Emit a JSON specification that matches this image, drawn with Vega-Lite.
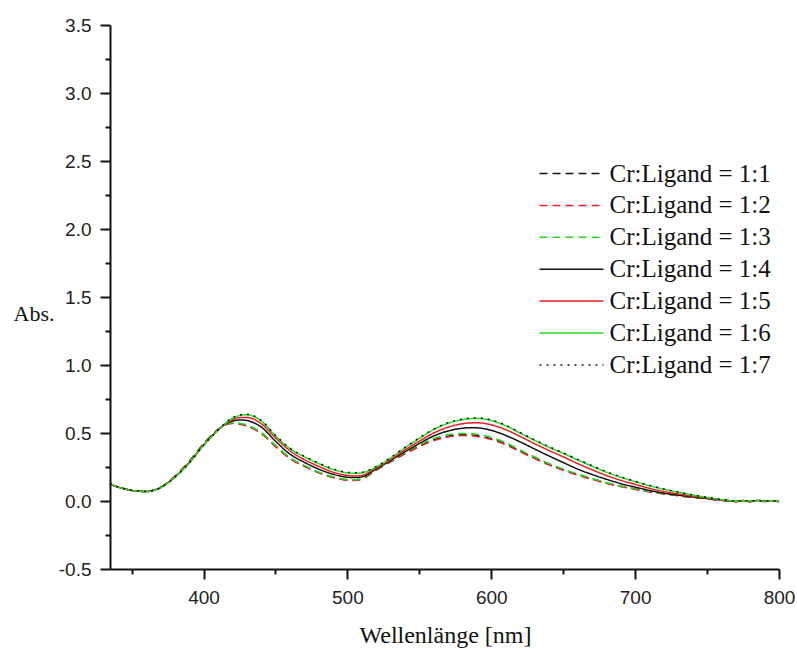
{
"$schema": "https://vega.github.io/schema/vega-lite/v6.json",
"width": 669, "height": 544,
"autosize": "none",
"padding": {"left": 110, "top": 25, "right": 18, "bottom": 80},
"background": "white",
"config": {"view": {"stroke": null}, "axis": {"grid": false}},
"data": {"values": [
{"nm":335,"abs":0.125,"series":"Cr:Ligand = 1:1"},{"nm":340,"abs":0.105,"series":"Cr:Ligand = 1:1"},{"nm":345,"abs":0.09,"series":"Cr:Ligand = 1:1"},{"nm":350,"abs":0.078,"series":"Cr:Ligand = 1:1"},{"nm":360,"abs":0.07,"series":"Cr:Ligand = 1:1"},{"nm":370,"abs":0.1,"series":"Cr:Ligand = 1:1"},{"nm":380,"abs":0.18,"series":"Cr:Ligand = 1:1"},{"nm":390,"abs":0.29,"series":"Cr:Ligand = 1:1"},{"nm":400,"abs":0.42,"series":"Cr:Ligand = 1:1"},{"nm":410,"abs":0.525,"series":"Cr:Ligand = 1:1"},{"nm":415,"abs":0.56,"series":"Cr:Ligand = 1:1"},{"nm":420,"abs":0.572,"series":"Cr:Ligand = 1:1"},{"nm":425,"abs":0.568,"series":"Cr:Ligand = 1:1"},{"nm":430,"abs":0.555,"series":"Cr:Ligand = 1:1"},{"nm":435,"abs":0.532,"series":"Cr:Ligand = 1:1"},{"nm":440,"abs":0.5,"series":"Cr:Ligand = 1:1"},{"nm":450,"abs":0.405,"series":"Cr:Ligand = 1:1"},{"nm":460,"abs":0.315,"series":"Cr:Ligand = 1:1"},{"nm":470,"abs":0.258,"series":"Cr:Ligand = 1:1"},{"nm":480,"abs":0.21,"series":"Cr:Ligand = 1:1"},{"nm":490,"abs":0.175,"series":"Cr:Ligand = 1:1"},{"nm":500,"abs":0.155,"series":"Cr:Ligand = 1:1"},{"nm":505,"abs":0.153,"series":"Cr:Ligand = 1:1"},{"nm":510,"abs":0.162,"series":"Cr:Ligand = 1:1"},{"nm":520,"abs":0.228,"series":"Cr:Ligand = 1:1"},{"nm":530,"abs":0.29,"series":"Cr:Ligand = 1:1"},{"nm":540,"abs":0.35,"series":"Cr:Ligand = 1:1"},{"nm":550,"abs":0.405,"series":"Cr:Ligand = 1:1"},{"nm":560,"abs":0.45,"series":"Cr:Ligand = 1:1"},{"nm":570,"abs":0.477,"series":"Cr:Ligand = 1:1"},{"nm":580,"abs":0.487,"series":"Cr:Ligand = 1:1"},{"nm":585,"abs":0.486,"series":"Cr:Ligand = 1:1"},{"nm":590,"abs":0.481,"series":"Cr:Ligand = 1:1"},{"nm":595,"abs":0.472,"series":"Cr:Ligand = 1:1"},{"nm":600,"abs":0.458,"series":"Cr:Ligand = 1:1"},{"nm":610,"abs":0.42,"series":"Cr:Ligand = 1:1"},{"nm":620,"abs":0.368,"series":"Cr:Ligand = 1:1"},{"nm":630,"abs":0.318,"series":"Cr:Ligand = 1:1"},{"nm":640,"abs":0.27,"series":"Cr:Ligand = 1:1"},{"nm":650,"abs":0.23,"series":"Cr:Ligand = 1:1"},{"nm":660,"abs":0.195,"series":"Cr:Ligand = 1:1"},{"nm":670,"abs":0.162,"series":"Cr:Ligand = 1:1"},{"nm":680,"abs":0.133,"series":"Cr:Ligand = 1:1"},{"nm":690,"abs":0.108,"series":"Cr:Ligand = 1:1"},{"nm":700,"abs":0.088,"series":"Cr:Ligand = 1:1"},{"nm":710,"abs":0.069,"series":"Cr:Ligand = 1:1"},{"nm":720,"abs":0.053,"series":"Cr:Ligand = 1:1"},{"nm":730,"abs":0.039,"series":"Cr:Ligand = 1:1"},{"nm":740,"abs":0.027,"series":"Cr:Ligand = 1:1"},{"nm":750,"abs":0.017,"series":"Cr:Ligand = 1:1"},{"nm":755,"abs":0.011,"series":"Cr:Ligand = 1:1"},{"nm":760,"abs":0.005,"series":"Cr:Ligand = 1:1"},{"nm":765,"abs":0.002,"series":"Cr:Ligand = 1:1"},{"nm":770,"abs":-0.004,"series":"Cr:Ligand = 1:1"},{"nm":775,"abs":0.003,"series":"Cr:Ligand = 1:1"},{"nm":780,"abs":-0.003,"series":"Cr:Ligand = 1:1"},{"nm":785,"abs":0.004,"series":"Cr:Ligand = 1:1"},{"nm":790,"abs":-0.002,"series":"Cr:Ligand = 1:1"},{"nm":795,"abs":0.002,"series":"Cr:Ligand = 1:1"},{"nm":800,"abs":-0.004,"series":"Cr:Ligand = 1:1"},
{"nm":335,"abs":0.124,"series":"Cr:Ligand = 1:2"},{"nm":340,"abs":0.104,"series":"Cr:Ligand = 1:2"},{"nm":345,"abs":0.09,"series":"Cr:Ligand = 1:2"},{"nm":350,"abs":0.078,"series":"Cr:Ligand = 1:2"},{"nm":360,"abs":0.07,"series":"Cr:Ligand = 1:2"},{"nm":370,"abs":0.1,"series":"Cr:Ligand = 1:2"},{"nm":380,"abs":0.181,"series":"Cr:Ligand = 1:2"},{"nm":390,"abs":0.292,"series":"Cr:Ligand = 1:2"},{"nm":400,"abs":0.422,"series":"Cr:Ligand = 1:2"},{"nm":410,"abs":0.526,"series":"Cr:Ligand = 1:2"},{"nm":415,"abs":0.56,"series":"Cr:Ligand = 1:2"},{"nm":420,"abs":0.57,"series":"Cr:Ligand = 1:2"},{"nm":425,"abs":0.565,"series":"Cr:Ligand = 1:2"},{"nm":430,"abs":0.552,"series":"Cr:Ligand = 1:2"},{"nm":435,"abs":0.528,"series":"Cr:Ligand = 1:2"},{"nm":440,"abs":0.496,"series":"Cr:Ligand = 1:2"},{"nm":450,"abs":0.4,"series":"Cr:Ligand = 1:2"},{"nm":460,"abs":0.312,"series":"Cr:Ligand = 1:2"},{"nm":470,"abs":0.255,"series":"Cr:Ligand = 1:2"},{"nm":480,"abs":0.208,"series":"Cr:Ligand = 1:2"},{"nm":490,"abs":0.173,"series":"Cr:Ligand = 1:2"},{"nm":500,"abs":0.153,"series":"Cr:Ligand = 1:2"},{"nm":505,"abs":0.151,"series":"Cr:Ligand = 1:2"},{"nm":510,"abs":0.16,"series":"Cr:Ligand = 1:2"},{"nm":520,"abs":0.226,"series":"Cr:Ligand = 1:2"},{"nm":530,"abs":0.287,"series":"Cr:Ligand = 1:2"},{"nm":540,"abs":0.346,"series":"Cr:Ligand = 1:2"},{"nm":550,"abs":0.4,"series":"Cr:Ligand = 1:2"},{"nm":560,"abs":0.444,"series":"Cr:Ligand = 1:2"},{"nm":570,"abs":0.471,"series":"Cr:Ligand = 1:2"},{"nm":580,"abs":0.481,"series":"Cr:Ligand = 1:2"},{"nm":585,"abs":0.48,"series":"Cr:Ligand = 1:2"},{"nm":590,"abs":0.475,"series":"Cr:Ligand = 1:2"},{"nm":595,"abs":0.466,"series":"Cr:Ligand = 1:2"},{"nm":600,"abs":0.452,"series":"Cr:Ligand = 1:2"},{"nm":610,"abs":0.414,"series":"Cr:Ligand = 1:2"},{"nm":620,"abs":0.363,"series":"Cr:Ligand = 1:2"},{"nm":630,"abs":0.313,"series":"Cr:Ligand = 1:2"},{"nm":640,"abs":0.266,"series":"Cr:Ligand = 1:2"},{"nm":650,"abs":0.226,"series":"Cr:Ligand = 1:2"},{"nm":660,"abs":0.191,"series":"Cr:Ligand = 1:2"},{"nm":670,"abs":0.159,"series":"Cr:Ligand = 1:2"},{"nm":680,"abs":0.13,"series":"Cr:Ligand = 1:2"},{"nm":690,"abs":0.106,"series":"Cr:Ligand = 1:2"},{"nm":700,"abs":0.086,"series":"Cr:Ligand = 1:2"},{"nm":710,"abs":0.067,"series":"Cr:Ligand = 1:2"},{"nm":720,"abs":0.051,"series":"Cr:Ligand = 1:2"},{"nm":730,"abs":0.038,"series":"Cr:Ligand = 1:2"},{"nm":740,"abs":0.026,"series":"Cr:Ligand = 1:2"},{"nm":750,"abs":0.016,"series":"Cr:Ligand = 1:2"},{"nm":755,"abs":0.01,"series":"Cr:Ligand = 1:2"},{"nm":760,"abs":0.004,"series":"Cr:Ligand = 1:2"},{"nm":765,"abs":0.001,"series":"Cr:Ligand = 1:2"},{"nm":770,"abs":-0.006,"series":"Cr:Ligand = 1:2"},{"nm":775,"abs":0.001,"series":"Cr:Ligand = 1:2"},{"nm":780,"abs":-0.005,"series":"Cr:Ligand = 1:2"},{"nm":785,"abs":0.002,"series":"Cr:Ligand = 1:2"},{"nm":790,"abs":-0.004,"series":"Cr:Ligand = 1:2"},{"nm":795,"abs":0.0,"series":"Cr:Ligand = 1:2"},{"nm":800,"abs":-0.006,"series":"Cr:Ligand = 1:2"},
{"nm":335,"abs":0.126,"series":"Cr:Ligand = 1:3"},{"nm":340,"abs":0.106,"series":"Cr:Ligand = 1:3"},{"nm":345,"abs":0.091,"series":"Cr:Ligand = 1:3"},{"nm":350,"abs":0.079,"series":"Cr:Ligand = 1:3"},{"nm":360,"abs":0.071,"series":"Cr:Ligand = 1:3"},{"nm":370,"abs":0.1,"series":"Cr:Ligand = 1:3"},{"nm":380,"abs":0.179,"series":"Cr:Ligand = 1:3"},{"nm":390,"abs":0.289,"series":"Cr:Ligand = 1:3"},{"nm":400,"abs":0.419,"series":"Cr:Ligand = 1:3"},{"nm":410,"abs":0.524,"series":"Cr:Ligand = 1:3"},{"nm":415,"abs":0.561,"series":"Cr:Ligand = 1:3"},{"nm":420,"abs":0.575,"series":"Cr:Ligand = 1:3"},{"nm":425,"abs":0.572,"series":"Cr:Ligand = 1:3"},{"nm":430,"abs":0.56,"series":"Cr:Ligand = 1:3"},{"nm":435,"abs":0.537,"series":"Cr:Ligand = 1:3"},{"nm":440,"abs":0.505,"series":"Cr:Ligand = 1:3"},{"nm":450,"abs":0.41,"series":"Cr:Ligand = 1:3"},{"nm":460,"abs":0.32,"series":"Cr:Ligand = 1:3"},{"nm":470,"abs":0.262,"series":"Cr:Ligand = 1:3"},{"nm":480,"abs":0.213,"series":"Cr:Ligand = 1:3"},{"nm":490,"abs":0.178,"series":"Cr:Ligand = 1:3"},{"nm":500,"abs":0.158,"series":"Cr:Ligand = 1:3"},{"nm":505,"abs":0.156,"series":"Cr:Ligand = 1:3"},{"nm":510,"abs":0.165,"series":"Cr:Ligand = 1:3"},{"nm":520,"abs":0.231,"series":"Cr:Ligand = 1:3"},{"nm":530,"abs":0.294,"series":"Cr:Ligand = 1:3"},{"nm":540,"abs":0.356,"series":"Cr:Ligand = 1:3"},{"nm":550,"abs":0.413,"series":"Cr:Ligand = 1:3"},{"nm":560,"abs":0.459,"series":"Cr:Ligand = 1:3"},{"nm":570,"abs":0.487,"series":"Cr:Ligand = 1:3"},{"nm":580,"abs":0.497,"series":"Cr:Ligand = 1:3"},{"nm":585,"abs":0.496,"series":"Cr:Ligand = 1:3"},{"nm":590,"abs":0.491,"series":"Cr:Ligand = 1:3"},{"nm":595,"abs":0.482,"series":"Cr:Ligand = 1:3"},{"nm":600,"abs":0.468,"series":"Cr:Ligand = 1:3"},{"nm":610,"abs":0.428,"series":"Cr:Ligand = 1:3"},{"nm":620,"abs":0.376,"series":"Cr:Ligand = 1:3"},{"nm":630,"abs":0.325,"series":"Cr:Ligand = 1:3"},{"nm":640,"abs":0.276,"series":"Cr:Ligand = 1:3"},{"nm":650,"abs":0.235,"series":"Cr:Ligand = 1:3"},{"nm":660,"abs":0.199,"series":"Cr:Ligand = 1:3"},{"nm":670,"abs":0.166,"series":"Cr:Ligand = 1:3"},{"nm":680,"abs":0.136,"series":"Cr:Ligand = 1:3"},{"nm":690,"abs":0.111,"series":"Cr:Ligand = 1:3"},{"nm":700,"abs":0.09,"series":"Cr:Ligand = 1:3"},{"nm":710,"abs":0.071,"series":"Cr:Ligand = 1:3"},{"nm":720,"abs":0.055,"series":"Cr:Ligand = 1:3"},{"nm":730,"abs":0.041,"series":"Cr:Ligand = 1:3"},{"nm":740,"abs":0.028,"series":"Cr:Ligand = 1:3"},{"nm":750,"abs":0.018,"series":"Cr:Ligand = 1:3"},{"nm":755,"abs":0.012,"series":"Cr:Ligand = 1:3"},{"nm":760,"abs":0.006,"series":"Cr:Ligand = 1:3"},{"nm":765,"abs":0.003,"series":"Cr:Ligand = 1:3"},{"nm":770,"abs":-0.003,"series":"Cr:Ligand = 1:3"},{"nm":775,"abs":0.004,"series":"Cr:Ligand = 1:3"},{"nm":780,"abs":-0.002,"series":"Cr:Ligand = 1:3"},{"nm":785,"abs":0.005,"series":"Cr:Ligand = 1:3"},{"nm":790,"abs":-0.001,"series":"Cr:Ligand = 1:3"},{"nm":795,"abs":0.003,"series":"Cr:Ligand = 1:3"},{"nm":800,"abs":-0.003,"series":"Cr:Ligand = 1:3"},
{"nm":335,"abs":0.125,"series":"Cr:Ligand = 1:4"},{"nm":340,"abs":0.105,"series":"Cr:Ligand = 1:4"},{"nm":345,"abs":0.09,"series":"Cr:Ligand = 1:4"},{"nm":350,"abs":0.078,"series":"Cr:Ligand = 1:4"},{"nm":360,"abs":0.07,"series":"Cr:Ligand = 1:4"},{"nm":370,"abs":0.098,"series":"Cr:Ligand = 1:4"},{"nm":380,"abs":0.176,"series":"Cr:Ligand = 1:4"},{"nm":390,"abs":0.282,"series":"Cr:Ligand = 1:4"},{"nm":400,"abs":0.412,"series":"Cr:Ligand = 1:4"},{"nm":410,"abs":0.52,"series":"Cr:Ligand = 1:4"},{"nm":415,"abs":0.563,"series":"Cr:Ligand = 1:4"},{"nm":420,"abs":0.588,"series":"Cr:Ligand = 1:4"},{"nm":425,"abs":0.596,"series":"Cr:Ligand = 1:4"},{"nm":430,"abs":0.592,"series":"Cr:Ligand = 1:4"},{"nm":435,"abs":0.575,"series":"Cr:Ligand = 1:4"},{"nm":440,"abs":0.545,"series":"Cr:Ligand = 1:4"},{"nm":450,"abs":0.44,"series":"Cr:Ligand = 1:4"},{"nm":460,"abs":0.345,"series":"Cr:Ligand = 1:4"},{"nm":470,"abs":0.285,"series":"Cr:Ligand = 1:4"},{"nm":480,"abs":0.235,"series":"Cr:Ligand = 1:4"},{"nm":490,"abs":0.197,"series":"Cr:Ligand = 1:4"},{"nm":500,"abs":0.175,"series":"Cr:Ligand = 1:4"},{"nm":505,"abs":0.172,"series":"Cr:Ligand = 1:4"},{"nm":510,"abs":0.177,"series":"Cr:Ligand = 1:4"},{"nm":520,"abs":0.235,"series":"Cr:Ligand = 1:4"},{"nm":530,"abs":0.297,"series":"Cr:Ligand = 1:4"},{"nm":540,"abs":0.362,"series":"Cr:Ligand = 1:4"},{"nm":550,"abs":0.423,"series":"Cr:Ligand = 1:4"},{"nm":560,"abs":0.478,"series":"Cr:Ligand = 1:4"},{"nm":570,"abs":0.515,"series":"Cr:Ligand = 1:4"},{"nm":580,"abs":0.535,"series":"Cr:Ligand = 1:4"},{"nm":585,"abs":0.539,"series":"Cr:Ligand = 1:4"},{"nm":590,"abs":0.538,"series":"Cr:Ligand = 1:4"},{"nm":595,"abs":0.532,"series":"Cr:Ligand = 1:4"},{"nm":600,"abs":0.52,"series":"Cr:Ligand = 1:4"},{"nm":610,"abs":0.482,"series":"Cr:Ligand = 1:4"},{"nm":620,"abs":0.435,"series":"Cr:Ligand = 1:4"},{"nm":630,"abs":0.383,"series":"Cr:Ligand = 1:4"},{"nm":640,"abs":0.332,"series":"Cr:Ligand = 1:4"},{"nm":650,"abs":0.283,"series":"Cr:Ligand = 1:4"},{"nm":660,"abs":0.235,"series":"Cr:Ligand = 1:4"},{"nm":670,"abs":0.195,"series":"Cr:Ligand = 1:4"},{"nm":680,"abs":0.16,"series":"Cr:Ligand = 1:4"},{"nm":690,"abs":0.128,"series":"Cr:Ligand = 1:4"},{"nm":700,"abs":0.102,"series":"Cr:Ligand = 1:4"},{"nm":710,"abs":0.078,"series":"Cr:Ligand = 1:4"},{"nm":720,"abs":0.058,"series":"Cr:Ligand = 1:4"},{"nm":730,"abs":0.043,"series":"Cr:Ligand = 1:4"},{"nm":740,"abs":0.03,"series":"Cr:Ligand = 1:4"},{"nm":750,"abs":0.018,"series":"Cr:Ligand = 1:4"},{"nm":755,"abs":0.012,"series":"Cr:Ligand = 1:4"},{"nm":760,"abs":0.006,"series":"Cr:Ligand = 1:4"},{"nm":765,"abs":0.002,"series":"Cr:Ligand = 1:4"},{"nm":770,"abs":-0.003,"series":"Cr:Ligand = 1:4"},{"nm":775,"abs":0.003,"series":"Cr:Ligand = 1:4"},{"nm":780,"abs":-0.004,"series":"Cr:Ligand = 1:4"},{"nm":785,"abs":0.004,"series":"Cr:Ligand = 1:4"},{"nm":790,"abs":-0.002,"series":"Cr:Ligand = 1:4"},{"nm":795,"abs":0.002,"series":"Cr:Ligand = 1:4"},{"nm":800,"abs":-0.003,"series":"Cr:Ligand = 1:4"},
{"nm":335,"abs":0.125,"series":"Cr:Ligand = 1:5"},{"nm":340,"abs":0.105,"series":"Cr:Ligand = 1:5"},{"nm":345,"abs":0.09,"series":"Cr:Ligand = 1:5"},{"nm":350,"abs":0.078,"series":"Cr:Ligand = 1:5"},{"nm":360,"abs":0.07,"series":"Cr:Ligand = 1:5"},{"nm":370,"abs":0.097,"series":"Cr:Ligand = 1:5"},{"nm":380,"abs":0.175,"series":"Cr:Ligand = 1:5"},{"nm":390,"abs":0.28,"series":"Cr:Ligand = 1:5"},{"nm":400,"abs":0.41,"series":"Cr:Ligand = 1:5"},{"nm":410,"abs":0.52,"series":"Cr:Ligand = 1:5"},{"nm":415,"abs":0.565,"series":"Cr:Ligand = 1:5"},{"nm":420,"abs":0.598,"series":"Cr:Ligand = 1:5"},{"nm":425,"abs":0.613,"series":"Cr:Ligand = 1:5"},{"nm":430,"abs":0.614,"series":"Cr:Ligand = 1:5"},{"nm":435,"abs":0.602,"series":"Cr:Ligand = 1:5"},{"nm":440,"abs":0.57,"series":"Cr:Ligand = 1:5"},{"nm":450,"abs":0.465,"series":"Cr:Ligand = 1:5"},{"nm":460,"abs":0.37,"series":"Cr:Ligand = 1:5"},{"nm":470,"abs":0.305,"series":"Cr:Ligand = 1:5"},{"nm":480,"abs":0.255,"series":"Cr:Ligand = 1:5"},{"nm":490,"abs":0.212,"series":"Cr:Ligand = 1:5"},{"nm":500,"abs":0.188,"series":"Cr:Ligand = 1:5"},{"nm":505,"abs":0.183,"series":"Cr:Ligand = 1:5"},{"nm":510,"abs":0.188,"series":"Cr:Ligand = 1:5"},{"nm":520,"abs":0.243,"series":"Cr:Ligand = 1:5"},{"nm":530,"abs":0.305,"series":"Cr:Ligand = 1:5"},{"nm":540,"abs":0.375,"series":"Cr:Ligand = 1:5"},{"nm":550,"abs":0.44,"series":"Cr:Ligand = 1:5"},{"nm":560,"abs":0.5,"series":"Cr:Ligand = 1:5"},{"nm":570,"abs":0.543,"series":"Cr:Ligand = 1:5"},{"nm":580,"abs":0.568,"series":"Cr:Ligand = 1:5"},{"nm":585,"abs":0.574,"series":"Cr:Ligand = 1:5"},{"nm":590,"abs":0.575,"series":"Cr:Ligand = 1:5"},{"nm":595,"abs":0.571,"series":"Cr:Ligand = 1:5"},{"nm":600,"abs":0.56,"series":"Cr:Ligand = 1:5"},{"nm":610,"abs":0.525,"series":"Cr:Ligand = 1:5"},{"nm":620,"abs":0.475,"series":"Cr:Ligand = 1:5"},{"nm":630,"abs":0.422,"series":"Cr:Ligand = 1:5"},{"nm":640,"abs":0.372,"series":"Cr:Ligand = 1:5"},{"nm":650,"abs":0.325,"series":"Cr:Ligand = 1:5"},{"nm":660,"abs":0.275,"series":"Cr:Ligand = 1:5"},{"nm":670,"abs":0.23,"series":"Cr:Ligand = 1:5"},{"nm":680,"abs":0.188,"series":"Cr:Ligand = 1:5"},{"nm":690,"abs":0.152,"series":"Cr:Ligand = 1:5"},{"nm":700,"abs":0.122,"series":"Cr:Ligand = 1:5"},{"nm":710,"abs":0.093,"series":"Cr:Ligand = 1:5"},{"nm":720,"abs":0.07,"series":"Cr:Ligand = 1:5"},{"nm":730,"abs":0.052,"series":"Cr:Ligand = 1:5"},{"nm":740,"abs":0.036,"series":"Cr:Ligand = 1:5"},{"nm":750,"abs":0.022,"series":"Cr:Ligand = 1:5"},{"nm":755,"abs":0.015,"series":"Cr:Ligand = 1:5"},{"nm":760,"abs":0.008,"series":"Cr:Ligand = 1:5"},{"nm":765,"abs":0.003,"series":"Cr:Ligand = 1:5"},{"nm":770,"abs":-0.003,"series":"Cr:Ligand = 1:5"},{"nm":775,"abs":0.002,"series":"Cr:Ligand = 1:5"},{"nm":780,"abs":-0.004,"series":"Cr:Ligand = 1:5"},{"nm":785,"abs":0.003,"series":"Cr:Ligand = 1:5"},{"nm":790,"abs":-0.003,"series":"Cr:Ligand = 1:5"},{"nm":795,"abs":0.002,"series":"Cr:Ligand = 1:5"},{"nm":800,"abs":-0.004,"series":"Cr:Ligand = 1:5"},
{"nm":335,"abs":0.125,"series":"Cr:Ligand = 1:6"},{"nm":340,"abs":0.105,"series":"Cr:Ligand = 1:6"},{"nm":345,"abs":0.09,"series":"Cr:Ligand = 1:6"},{"nm":350,"abs":0.078,"series":"Cr:Ligand = 1:6"},{"nm":360,"abs":0.07,"series":"Cr:Ligand = 1:6"},{"nm":370,"abs":0.096,"series":"Cr:Ligand = 1:6"},{"nm":380,"abs":0.173,"series":"Cr:Ligand = 1:6"},{"nm":390,"abs":0.278,"series":"Cr:Ligand = 1:6"},{"nm":400,"abs":0.408,"series":"Cr:Ligand = 1:6"},{"nm":410,"abs":0.518,"series":"Cr:Ligand = 1:6"},{"nm":415,"abs":0.57,"series":"Cr:Ligand = 1:6"},{"nm":420,"abs":0.607,"series":"Cr:Ligand = 1:6"},{"nm":425,"abs":0.628,"series":"Cr:Ligand = 1:6"},{"nm":430,"abs":0.634,"series":"Cr:Ligand = 1:6"},{"nm":435,"abs":0.622,"series":"Cr:Ligand = 1:6"},{"nm":440,"abs":0.59,"series":"Cr:Ligand = 1:6"},{"nm":450,"abs":0.48,"series":"Cr:Ligand = 1:6"},{"nm":460,"abs":0.385,"series":"Cr:Ligand = 1:6"},{"nm":470,"abs":0.325,"series":"Cr:Ligand = 1:6"},{"nm":480,"abs":0.275,"series":"Cr:Ligand = 1:6"},{"nm":490,"abs":0.232,"series":"Cr:Ligand = 1:6"},{"nm":500,"abs":0.207,"series":"Cr:Ligand = 1:6"},{"nm":505,"abs":0.203,"series":"Cr:Ligand = 1:6"},{"nm":510,"abs":0.207,"series":"Cr:Ligand = 1:6"},{"nm":520,"abs":0.25,"series":"Cr:Ligand = 1:6"},{"nm":530,"abs":0.315,"series":"Cr:Ligand = 1:6"},{"nm":540,"abs":0.39,"series":"Cr:Ligand = 1:6"},{"nm":550,"abs":0.46,"series":"Cr:Ligand = 1:6"},{"nm":560,"abs":0.525,"series":"Cr:Ligand = 1:6"},{"nm":570,"abs":0.572,"series":"Cr:Ligand = 1:6"},{"nm":580,"abs":0.598,"series":"Cr:Ligand = 1:6"},{"nm":585,"abs":0.605,"series":"Cr:Ligand = 1:6"},{"nm":590,"abs":0.607,"series":"Cr:Ligand = 1:6"},{"nm":595,"abs":0.603,"series":"Cr:Ligand = 1:6"},{"nm":600,"abs":0.592,"series":"Cr:Ligand = 1:6"},{"nm":610,"abs":0.553,"series":"Cr:Ligand = 1:6"},{"nm":620,"abs":0.5,"series":"Cr:Ligand = 1:6"},{"nm":630,"abs":0.446,"series":"Cr:Ligand = 1:6"},{"nm":640,"abs":0.396,"series":"Cr:Ligand = 1:6"},{"nm":650,"abs":0.35,"series":"Cr:Ligand = 1:6"},{"nm":660,"abs":0.302,"series":"Cr:Ligand = 1:6"},{"nm":670,"abs":0.256,"series":"Cr:Ligand = 1:6"},{"nm":680,"abs":0.212,"series":"Cr:Ligand = 1:6"},{"nm":690,"abs":0.175,"series":"Cr:Ligand = 1:6"},{"nm":700,"abs":0.142,"series":"Cr:Ligand = 1:6"},{"nm":710,"abs":0.112,"series":"Cr:Ligand = 1:6"},{"nm":720,"abs":0.086,"series":"Cr:Ligand = 1:6"},{"nm":730,"abs":0.064,"series":"Cr:Ligand = 1:6"},{"nm":740,"abs":0.043,"series":"Cr:Ligand = 1:6"},{"nm":750,"abs":0.026,"series":"Cr:Ligand = 1:6"},{"nm":755,"abs":0.018,"series":"Cr:Ligand = 1:6"},{"nm":760,"abs":0.01,"series":"Cr:Ligand = 1:6"},{"nm":765,"abs":0.004,"series":"Cr:Ligand = 1:6"},{"nm":770,"abs":-0.002,"series":"Cr:Ligand = 1:6"},{"nm":775,"abs":0.003,"series":"Cr:Ligand = 1:6"},{"nm":780,"abs":-0.003,"series":"Cr:Ligand = 1:6"},{"nm":785,"abs":0.004,"series":"Cr:Ligand = 1:6"},{"nm":790,"abs":-0.003,"series":"Cr:Ligand = 1:6"},{"nm":795,"abs":0.002,"series":"Cr:Ligand = 1:6"},{"nm":800,"abs":-0.002,"series":"Cr:Ligand = 1:6"},
{"nm":335,"abs":0.127,"series":"Cr:Ligand = 1:7"},{"nm":340,"abs":0.106,"series":"Cr:Ligand = 1:7"},{"nm":345,"abs":0.091,"series":"Cr:Ligand = 1:7"},{"nm":350,"abs":0.079,"series":"Cr:Ligand = 1:7"},{"nm":360,"abs":0.071,"series":"Cr:Ligand = 1:7"},{"nm":370,"abs":0.097,"series":"Cr:Ligand = 1:7"},{"nm":380,"abs":0.174,"series":"Cr:Ligand = 1:7"},{"nm":390,"abs":0.279,"series":"Cr:Ligand = 1:7"},{"nm":400,"abs":0.41,"series":"Cr:Ligand = 1:7"},{"nm":410,"abs":0.52,"series":"Cr:Ligand = 1:7"},{"nm":415,"abs":0.573,"series":"Cr:Ligand = 1:7"},{"nm":420,"abs":0.611,"series":"Cr:Ligand = 1:7"},{"nm":425,"abs":0.632,"series":"Cr:Ligand = 1:7"},{"nm":430,"abs":0.638,"series":"Cr:Ligand = 1:7"},{"nm":435,"abs":0.626,"series":"Cr:Ligand = 1:7"},{"nm":440,"abs":0.594,"series":"Cr:Ligand = 1:7"},{"nm":450,"abs":0.484,"series":"Cr:Ligand = 1:7"},{"nm":460,"abs":0.389,"series":"Cr:Ligand = 1:7"},{"nm":470,"abs":0.329,"series":"Cr:Ligand = 1:7"},{"nm":480,"abs":0.279,"series":"Cr:Ligand = 1:7"},{"nm":490,"abs":0.236,"series":"Cr:Ligand = 1:7"},{"nm":500,"abs":0.211,"series":"Cr:Ligand = 1:7"},{"nm":505,"abs":0.207,"series":"Cr:Ligand = 1:7"},{"nm":510,"abs":0.211,"series":"Cr:Ligand = 1:7"},{"nm":520,"abs":0.254,"series":"Cr:Ligand = 1:7"},{"nm":530,"abs":0.319,"series":"Cr:Ligand = 1:7"},{"nm":540,"abs":0.394,"series":"Cr:Ligand = 1:7"},{"nm":550,"abs":0.464,"series":"Cr:Ligand = 1:7"},{"nm":560,"abs":0.529,"series":"Cr:Ligand = 1:7"},{"nm":570,"abs":0.576,"series":"Cr:Ligand = 1:7"},{"nm":580,"abs":0.602,"series":"Cr:Ligand = 1:7"},{"nm":585,"abs":0.609,"series":"Cr:Ligand = 1:7"},{"nm":590,"abs":0.611,"series":"Cr:Ligand = 1:7"},{"nm":595,"abs":0.607,"series":"Cr:Ligand = 1:7"},{"nm":600,"abs":0.596,"series":"Cr:Ligand = 1:7"},{"nm":610,"abs":0.557,"series":"Cr:Ligand = 1:7"},{"nm":620,"abs":0.504,"series":"Cr:Ligand = 1:7"},{"nm":630,"abs":0.45,"series":"Cr:Ligand = 1:7"},{"nm":640,"abs":0.4,"series":"Cr:Ligand = 1:7"},{"nm":650,"abs":0.354,"series":"Cr:Ligand = 1:7"},{"nm":660,"abs":0.306,"series":"Cr:Ligand = 1:7"},{"nm":670,"abs":0.26,"series":"Cr:Ligand = 1:7"},{"nm":680,"abs":0.216,"series":"Cr:Ligand = 1:7"},{"nm":690,"abs":0.178,"series":"Cr:Ligand = 1:7"},{"nm":700,"abs":0.145,"series":"Cr:Ligand = 1:7"},{"nm":710,"abs":0.115,"series":"Cr:Ligand = 1:7"},{"nm":720,"abs":0.088,"series":"Cr:Ligand = 1:7"},{"nm":730,"abs":0.066,"series":"Cr:Ligand = 1:7"},{"nm":740,"abs":0.045,"series":"Cr:Ligand = 1:7"},{"nm":750,"abs":0.027,"series":"Cr:Ligand = 1:7"},{"nm":755,"abs":0.019,"series":"Cr:Ligand = 1:7"},{"nm":760,"abs":0.011,"series":"Cr:Ligand = 1:7"},{"nm":765,"abs":0.005,"series":"Cr:Ligand = 1:7"},{"nm":770,"abs":-0.001,"series":"Cr:Ligand = 1:7"},{"nm":775,"abs":0.004,"series":"Cr:Ligand = 1:7"},{"nm":780,"abs":-0.002,"series":"Cr:Ligand = 1:7"},{"nm":785,"abs":0.005,"series":"Cr:Ligand = 1:7"},{"nm":790,"abs":-0.002,"series":"Cr:Ligand = 1:7"},{"nm":795,"abs":0.003,"series":"Cr:Ligand = 1:7"},{"nm":800,"abs":-0.001,"series":"Cr:Ligand = 1:7"}
]},
"mark": {"type": "line", "strokeWidth": 1.5, "interpolate": "monotone"},
"encoding": {
  "x": {"field": "nm", "type": "quantitative",
    "scale": {"domain": [335, 800], "nice": false, "zero": false},
    "axis": {"title": "Wellenlänge [nm]", "values": [350,400,450,500,550,600,650,700,750,800],
      "labelExpr": "datum.value % 100 === 0 ? datum.label : ''",
      "tickSize": {"condition": {"test": "datum.value % 100 === 0", "value": 10}, "value": 5},
      "tickWidth": 2, "tickColor": "#111", "domainColor": "#111", "domainWidth": 2,
      "labelFont": "Liberation Sans", "labelFontSize": 19, "labelColor": "#222", "labelPadding": 9,
      "labelFlush": false, "labelOverlap": false,
      "titleFont": "Liberation Serif", "titleFontSize": 24, "titleFontWeight": "normal", "titleColor": "#111",
      "titleAlign": "center", "titleBaseline": "alphabetic", "titleX": 335, "titleY": 73}},
  "y": {"field": "abs", "type": "quantitative",
    "scale": {"domain": [-0.5, 3.5], "nice": false, "zero": false},
    "axis": {"title": "Abs.", "values": [-0.5,-0.25,0,0.25,0.5,0.75,1,1.25,1.5,1.75,2,2.25,2.5,2.75,3,3.25,3.5],
      "labelExpr": "(datum.value * 2) % 1 === 0 ? (datum.value < 0 ? '-' + format(-datum.value, '.1f') : format(datum.value, '.1f')) : ''",
      "tickSize": {"condition": {"test": "(datum.value * 2) % 1 === 0", "value": 10}, "value": 5},
      "tickWidth": 2, "tickColor": "#111", "domainColor": "#111", "domainWidth": 2,
      "labelFont": "Liberation Sans", "labelFontSize": 19, "labelColor": "#222", "labelPadding": 9,
      "labelFlush": false, "labelOverlap": false,
      "titleFont": "Liberation Serif", "titleFontSize": 22, "titleFontWeight": "normal", "titleColor": "#111",
      "titleAngle": 0, "titleAlign": "left", "titleBaseline": "middle", "titleX": -97, "titleY": 288}},
  "color": {"field": "series", "type": "nominal",
    "scale": {"domain": ["Cr:Ligand = 1:1","Cr:Ligand = 1:2","Cr:Ligand = 1:3","Cr:Ligand = 1:4","Cr:Ligand = 1:5","Cr:Ligand = 1:6","Cr:Ligand = 1:7"],
      "range": ["#111111","#ee1c24","#22dd22","#111111","#ee1c24","#22dd22","#111111"]},
    "legend": {"title": null, "orient": "none", "legendX": 417, "legendY": 136, "symbolType": "M0,0H12", "symbolSize": 113.8, "symbolStrokeWidth": 1.5, "symbolOffset": 0, "labelOffset": 57.5, "labelFont": "Liberation Serif", "labelFontSize": 25, "labelColor": "#111", "labelLimit": 400, "rowPadding": 5.9, "padding": 0}},
  "strokeDash": {"field": "series", "type": "nominal",
    "scale": {"domain": ["Cr:Ligand = 1:1","Cr:Ligand = 1:2","Cr:Ligand = 1:3","Cr:Ligand = 1:4","Cr:Ligand = 1:5","Cr:Ligand = 1:6","Cr:Ligand = 1:7"],
      "range": [[8,5],[8,5],[8,5],[1,0],[1,0],[1,0],[2,5]]},
    "legend": {"title": null, "orient": "none", "legendX": 417, "legendY": 136, "symbolType": "M0,0H12", "symbolSize": 113.8, "symbolStrokeWidth": 1.5, "symbolOffset": 0, "labelOffset": 57.5, "labelFont": "Liberation Serif", "labelFontSize": 25, "labelColor": "#111", "labelLimit": 400, "rowPadding": 5.9, "padding": 0}}
}
}
